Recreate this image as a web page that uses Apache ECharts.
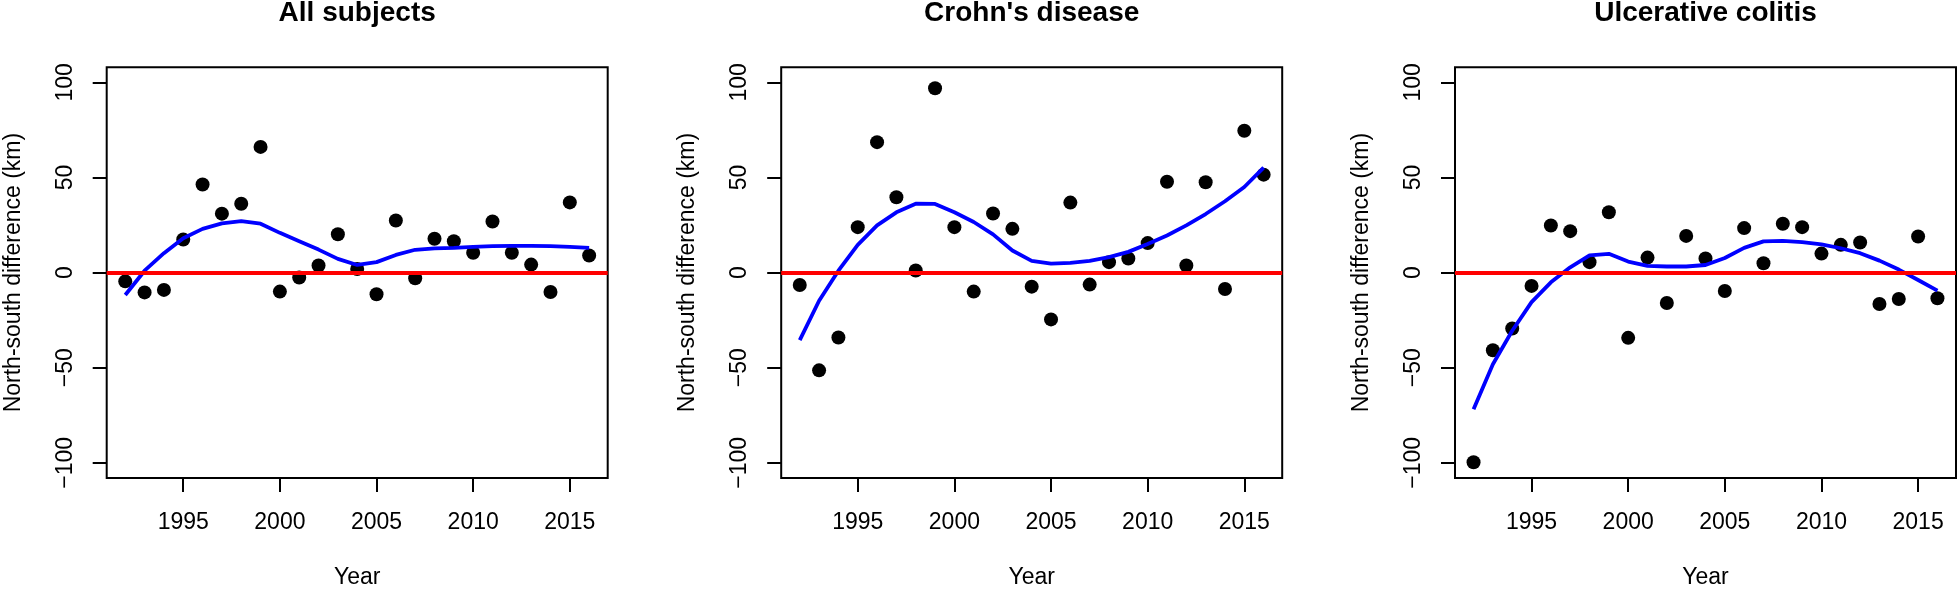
<!DOCTYPE html>
<html>
<head>
<meta charset="utf-8">
<script src="https://cdn.jsdelivr.net/npm/echarts@6/dist/echarts.min.js"></script>
<style>
html,body{margin:0;padding:0;background:#fff;}
#chart{width:1958px;height:594px;}
</style>
</head>
<body>
<div id="chart"></div>
<script>
const years = [1992,1993,1994,1995,1996,1997,1998,1999,2000,2001,2002,2003,2004,2005,2006,2007,2008,2009,2010,2011,2012,2013,2014,2015,2016];
const panelTitles = ["All subjects", "Crohn's disease", "Ulcerative colitis"];
const xAxisTitle = "Year";
const yAxisTitle = "North-south difference (km)";
const xTicks = [1995, 2000, 2005, 2010, 2015];
const yTicks = [-100, -50, 0, 50, 100];

const allSubjectsPoints = [-4.6,-10.4,-9.1,17.4,46.3,31.0,36.2,66.1,-10.0,-2.6,3.7,20.2,1.9,-11.4,27.4,-3.0,17.8,16.5,10.4,26.9,10.4,4.2,-10.2,36.9,9.0];
const allSubjectsFit = [-11.8,1.0,10.2,18.1,23.0,25.9,27.1,25.7,20.9,16.5,12.1,7.2,4.0,5.5,9.3,12.0,12.7,13.0,13.5,13.9,14.1,14.1,13.9,13.5,13.0];

const crohnsPoints = [-6.5,-51.4,-34.1,23.9,68.6,39.6,1.1,96.9,23.9,-10.0,31.1,23.0,-7.4,-24.6,36.8,-6.3,5.5,7.4,15.5,47.8,3.7,47.5,-8.6,74.6,51.5];
const crohnsFit = [-35.5,-14.8,1.0,14.6,24.8,31.7,36.2,36.1,31.7,26.6,20.1,11.6,6.2,4.7,5.1,6.2,8.1,10.9,15.0,19.5,24.8,30.8,37.5,45.0,55.2];

const ucPoints = [-99.7,-40.8,-29.4,-7.0,24.8,21.8,5.5,31.7,-34.3,7.9,-16.0,19.3,7.4,-9.7,23.4,4.9,25.7,23.9,10.0,14.6,15.8,-16.5,-13.9,19.0,-13.5];
const ucFit = [-71.9,-48.2,-30.6,-15.5,-5.1,2.8,9.1,9.9,5.8,3.5,3.2,3.2,4.0,7.7,13.0,16.4,16.7,16.0,14.8,12.8,10.2,6.3,1.6,-3.9,-9.5];

const referenceLine = 0;

const pointSets = [allSubjectsPoints, crohnsPoints, ucPoints];
const fitSets = [allSubjectsFit, crohnsFit, ucFit];

// layout
const gridLefts = [106.7, 781.2, 1455];
const gridTop = 67.2, gridW = 501, gridH = 419;
const font = 'Liberation Sans, Arial, Helvetica, sans-serif';
const xSpan = years[years.length-1] - years[0];
const xMin = years[0] - 0.04 * xSpan;
const xMax = years[years.length-1] + 0.04 * xSpan;
const yMin = -108, yMax = 108;

const grids = [], xAxes = [], yAxes = [], series = [], titles = [];
for (let p = 0; p < 3; p++) {
  grids.push({left: gridLefts[p], top: gridTop, width: gridW, height: gridH, show: true, borderColor: '#000', borderWidth: 2, backgroundColor: 'transparent', containLabel: false});
  titles.push({text: panelTitles[p], left: gridLefts[p] + gridW/2, top: -1, padding: 0, textAlign: 'center',
    textStyle: {fontFamily: font, fontSize: 28, fontWeight: 'bold', color: '#000'}});
  xAxes.push({type: 'value', gridIndex: p, min: xMin, max: xMax,
    axisLine: {show: false, onZero: false},
    axisTick: {show: true, length: 14, inside: false, customValues: xTicks, lineStyle: {color: '#000', width: 2}},
    axisLabel: {show: true, margin: 33, customValues: xTicks, fontFamily: font, fontSize: 23, color: '#000', formatter: v => String(v)},
    splitLine: {show: false},
    name: xAxisTitle, nameLocation: 'middle', nameGap: 88,
    nameTextStyle: {fontFamily: font, fontSize: 23, color: '#000'}});
  yAxes.push({type: 'value', gridIndex: p, min: yMin, max: yMax,
    axisLine: {show: false, onZero: false},
    axisTick: {show: true, length: 14, inside: false, customValues: yTicks, lineStyle: {color: '#000', width: 2}},
    axisLabel: {show: true, rotate: 90, margin: 30, customValues: yTicks, fontFamily: font, fontSize: 23, color: '#000',
      formatter: v => (v < 0 ? '\u2212' + Math.abs(v) : String(v))},
    splitLine: {show: false},
    name: yAxisTitle, nameLocation: 'middle', nameGap: 82, nameRotate: 90,
    nameTextStyle: {fontFamily: font, fontSize: 23, color: '#000'}});
  series.push({type: 'scatter', xAxisIndex: p, yAxisIndex: p, z: 2,
    data: years.map((yr, i) => [yr, pointSets[p][i]]),
    symbol: 'circle', symbolSize: 14, itemStyle: {color: '#000', opacity: 1},
    markLine: {silent: true, symbol: ['none', 'none'], label: {show: false}, animation: false,
      lineStyle: {color: '#ff0000', width: 3.8, type: 'solid', opacity: 1}, emphasis: {disabled: true},
      data: [{yAxis: referenceLine}]}});
  series.push({type: 'line', xAxisIndex: p, yAxisIndex: p, z: 4,
    data: years.map((yr, i) => [yr, fitSets[p][i]]),
    showSymbol: false, smooth: false, lineStyle: {color: '#0000ff', width: 3.8, opacity: 1}});
}

const chart = echarts.init(document.getElementById('chart'), null, {renderer: 'canvas'});
chart.setOption({
  animation: false,
  backgroundColor: '#fff',
  title: titles,
  grid: grids,
  xAxis: xAxes,
  yAxis: yAxes,
  series: series
});
</script>
</body>
</html>
